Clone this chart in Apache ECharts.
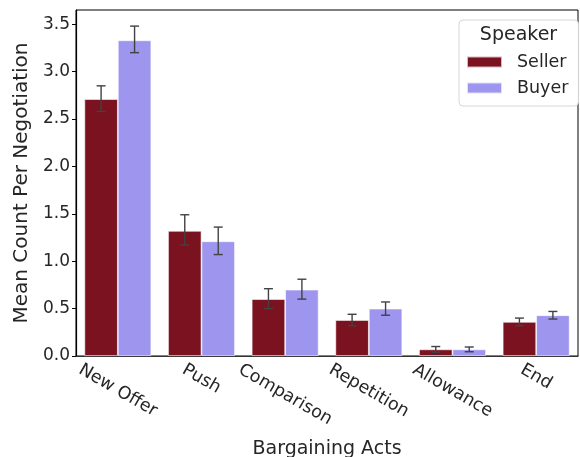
<!DOCTYPE html>
<html>
<head>
<meta charset="utf-8">
<script src="https://cdn.jsdelivr.net/npm/echarts@6/dist/echarts.min.js"></script>
<style>html,body{margin:0;padding:0;background:#fff}#c{width:580px;height:457px}</style>
</head>
<body>
<div id="c"></div>
<script>
const categories = ['New Offer', 'Push', 'Comparison', 'Repetition', 'Allowance', 'End'];
const sellerMean = [2.71, 1.32, 0.60, 0.38, 0.07, 0.36];
const sellerLow  = [2.58, 1.17, 0.50, 0.32, 0.04, 0.32];
const sellerHigh = [2.85, 1.49, 0.71, 0.44, 0.10, 0.40];
const buyerMean  = [3.33, 1.21, 0.70, 0.50, 0.07, 0.43];
const buyerLow   = [3.20, 1.07, 0.60, 0.43, 0.045, 0.39];
const buyerHigh  = [3.48, 1.36, 0.81, 0.57, 0.095, 0.47];
const yTicks = [0, 0.5, 1.0, 1.5, 2.0, 2.5, 3.0, 3.5];

const FONT = 'DejaVu Sans';
const TXT = '#262626';
const SELLER = '#7B1220';
const BUYER = '#9D95EE';
const XFS = 17.5;

// per-label padding so rotated labels are placed like matplotlib (bbox top-centered)
const cv = document.createElement('canvas').getContext('2d');
cv.font = XFS + 'px "' + FONT + '"';
const rich = {};
categories.forEach((c, i) => {
  const w = cv.measureText(c).width;
  const h = XFS;
  const d = (w * 0.5 + h * 0.866) / 2;
  rich['l' + i] = { fontFamily: FONT, fontSize: XFS, color: TXT, padding: [1.732 * d, 0, 0, d] };
});

const chart = echarts.init(document.getElementById('c'), null, { renderer: 'canvas' });

function errSeries(name, low, high, off) {
  return {
    type: 'custom',
    name: name + '_err',
    z: 10,
    data: categories.map((c, i) => [i, low[i], high[i]]),
    encode: { x: 0, y: [1, 2] },
    renderItem: function (params, api) {
      const band = api.size([1, 0])[0];
      const x = api.coord([api.value(0), 0])[0] + off * band;
      const y1 = api.coord([api.value(0), api.value(1)])[1];
      const y2 = api.coord([api.value(0), api.value(2)])[1];
      const cap = 4.5;
      const st = { stroke: '#424242', lineWidth: 1.4 };
      return {
        type: 'group',
        children: [
          { type: 'line', shape: { x1: x, y1: y1, x2: x, y2: y2 }, style: st },
          { type: 'line', shape: { x1: x - cap, y1: y1, x2: x + cap, y2: y1 }, style: st },
          { type: 'line', shape: { x1: x - cap, y1: y2, x2: x + cap, y2: y2 }, style: st }
        ]
      };
    }
  };
}

chart.setOption({
  animation: false,
  backgroundColor: '#fff',
  grid: { left: 76, right: 2, top: 10, bottom: 101, show: true, borderColor: '#000', borderWidth: 1, containLabel: false, outerBoundsMode: 'none' },
  legend: {
    data: ['Seller', 'Buyer'],
    orient: 'vertical',
    left: 459, top: 20,
    padding: [33, 10, 9, 7],
    itemWidth: 35, itemHeight: 11, itemGap: 8,
    icon: 'rect',
    borderColor: '#d6d6d6', borderWidth: 1, borderRadius: 4,
    backgroundColor: '#fff',
    textStyle: { fontFamily: FONT, fontSize: 17.5, color: TXT, padding: [0, 0, 0, 10] }
  },
  graphic: [{
    type: 'text', z: 100,
    style: { text: 'Speaker', x: 518.5, y: 35.5, align: 'center', verticalAlign: 'middle', font: '19px "' + FONT + '"', fill: TXT }
  }],
  xAxis: {
    type: 'category',
    data: categories,
    name: 'Bargaining Acts',
    nameLocation: 'middle',
    nameGap: 84,
    nameTextStyle: { fontFamily: FONT, fontSize: 19, color: TXT },
    axisLine: { lineStyle: { color: '#333', width: 1.2 } },
    axisTick: { show: false },
    axisLabel: {
      interval: 0, rotate: -30, align: 'center', verticalAlign: 'middle', margin: 5,
      formatter: (v, i) => '{l' + i + '|' + v + '}',
      rich: rich
    }
  },
  yAxis: {
    type: 'value',
    min: 0, max: 3.65, interval: 0.5,
    name: 'Mean Count Per Negotiation',
    nameLocation: 'middle',
    nameGap: 42,
    nameTextStyle: { fontFamily: FONT, fontSize: 20, color: TXT },
    splitLine: { show: false },
    axisLine: { show: true, lineStyle: { color: '#000', width: 1.2 } },
    axisTick: { show: true, length: 4, lineStyle: { color: '#000' }, customValues: yTicks },
    axisLabel: { fontFamily: FONT, fontSize: 17, color: TXT, margin: 6, customValues: yTicks, formatter: v => v.toFixed(1) }
  },
  series: [
    { type: 'bar', name: 'Seller', data: sellerMean, barWidth: '40%', barGap: '0%', itemStyle: { color: SELLER, borderColor: 'rgba(255,255,255,0.7)', borderWidth: 0.8 } },
    { type: 'bar', name: 'Buyer', data: buyerMean, barWidth: '40%', barGap: '0%', itemStyle: { color: BUYER, borderColor: 'rgba(255,255,255,0.7)', borderWidth: 0.8 } },
    errSeries('Seller', sellerLow, sellerHigh, -0.2),
    errSeries('Buyer', buyerLow, buyerHigh, 0.2)
  ]
});
</script>
</body>
</html>
